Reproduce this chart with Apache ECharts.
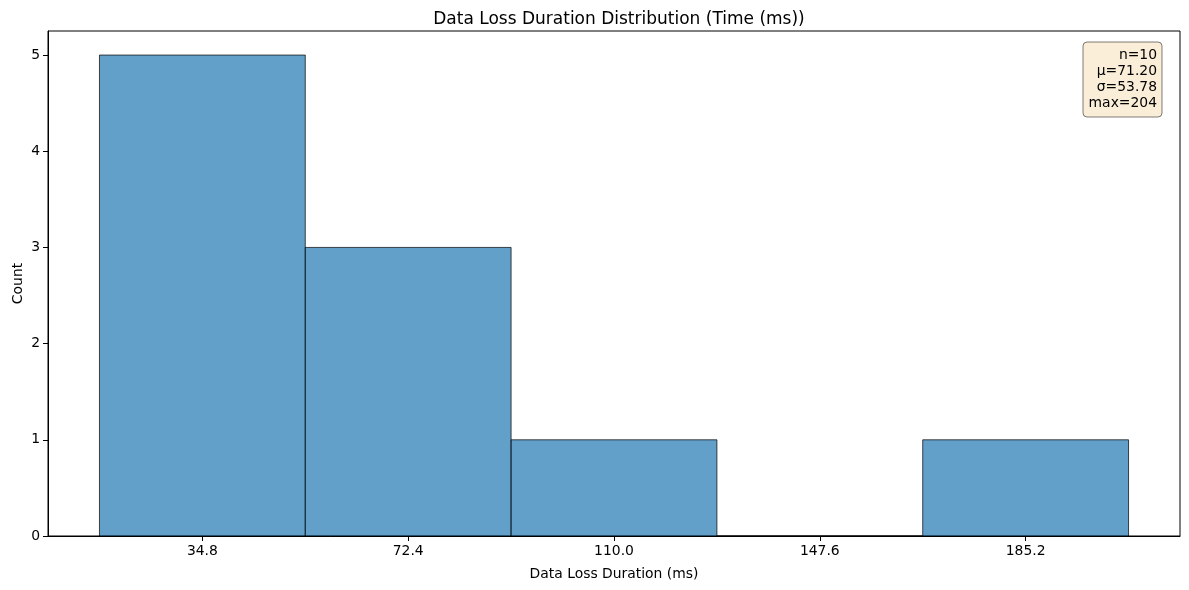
<!DOCTYPE html>
<html>
<head>
<meta charset="utf-8">
<script src="https://cdn.jsdelivr.net/npm/echarts@6/dist/echarts.min.js"></script>
<style>
  html, body { margin: 0; padding: 0; background: #fff; }
  #chart { width: 1189px; height: 590px; }
</style>
</head>
<body>
<div id="chart"></div>
<script>
// histogram bins (ms) and counts
var binEdges = [16, 53.6, 91.2, 128.8, 166.4, 204];
var counts = [5, 3, 1, 0, 1];
var xTicks = [34.8, 72.4, 110.0, 147.6, 185.2];
var yTicks = [0, 1, 2, 3, 4, 5];
var statLines = ['n=10', 'μ=71.20', 'σ=53.78', 'max=204'];

var font = 'DejaVu Sans';

var bins = [];
for (var i = 0; i < counts.length; i++) {
    bins.push([binEdges[i], binEdges[i + 1], counts[i]]);
}

// stats box: rect + one right-aligned text per line
var boxW = 79, boxH = 75, lineH = 16;
var boxChildren = [{
    type: 'rect',
    shape: { x: 0, y: 0, width: boxW, height: boxH, r: 4 },
    style: { fill: 'rgba(245,222,179,0.5)', stroke: 'rgba(0,0,0,0.5)', lineWidth: 1 }
}];
statLines.forEach(function (s, k) {
    boxChildren.push({
        type: 'text',
        x: boxW - 5,
        y: 5 + k * lineH + lineH / 2,
        style: {
            text: s, align: 'right', verticalAlign: 'middle',
            fontFamily: font, fontSize: 13.9, fill: '#000'
        }
    });
});

var chart = echarts.init(document.getElementById('chart'));

var option = {
    animation: false,
    backgroundColor: '#fff',
    title: {
        text: 'Data Loss Duration Distribution (Time (ms))',
        left: 614,
        textAlign: 'center',
        top: 6,
        textStyle: { fontFamily: font, fontSize: 17, fontWeight: 'normal', color: '#000' }
    },
    grid: {
        left: 48, right: 9, top: 31, bottom: 54,
        outerBoundsMode: 'none',
        containLabel: false,
        show: true, borderColor: '#000', borderWidth: 1, backgroundColor: 'transparent'
    },
    xAxis: {
        type: 'value',
        min: 6.6,
        max: 213.4,
        name: 'Data Loss Duration (ms)',
        nameLocation: 'middle',
        nameGap: 31,
        nameMoveOverlap: false,
        nameTextStyle: { fontFamily: font, fontSize: 13.9, color: '#000' },
        splitLine: { show: false },
        axisLine: { show: true, onZero: false, lineStyle: { color: '#000', width: 1 } },
        axisTick: { show: true, length: 5, customValues: xTicks, lineStyle: { color: '#000' } },
        axisLabel: {
            customValues: xTicks,
            margin: 8,
            fontFamily: font, fontSize: 13.9, color: '#000',
            formatter: function (v) { return v.toFixed(1); }
        }
    },
    yAxis: {
        type: 'value',
        min: 0,
        max: 5.25,
        name: 'Count',
        nameLocation: 'middle',
        nameGap: 23,
        nameMoveOverlap: false,
        nameTextStyle: { fontFamily: font, fontSize: 13.9, color: '#000' },
        splitLine: { show: false },
        axisLine: { show: true, lineStyle: { color: '#000', width: 1 } },
        axisTick: { show: true, length: 5, customValues: yTicks, lineStyle: { color: '#000' } },
        axisLabel: {
            customValues: yTicks,
            margin: 8,
            fontFamily: font, fontSize: 13.9, color: '#000'
        }
    },
    series: [{
        type: 'custom',
        data: bins,
        encode: { x: [0, 1], y: 2 },
        renderItem: function (params, api) {
            var p0 = api.coord([api.value(0), api.value(2)]);
            var p1 = api.coord([api.value(1), 0]);
            return {
                type: 'rect',
                shape: { x: p0[0], y: p0[1], width: p1[0] - p0[0], height: p1[1] - p0[1] },
                style: { fill: 'rgba(31,119,180,0.7)', stroke: 'rgba(0,0,0,0.7)', lineWidth: 1 }
            };
        }
    }],
    graphic: [{
        type: 'group',
        x: 1083,
        y: 42,
        z: 100,
        children: boxChildren
    }]
};

chart.setOption(option);
</script>
</body>
</html>
